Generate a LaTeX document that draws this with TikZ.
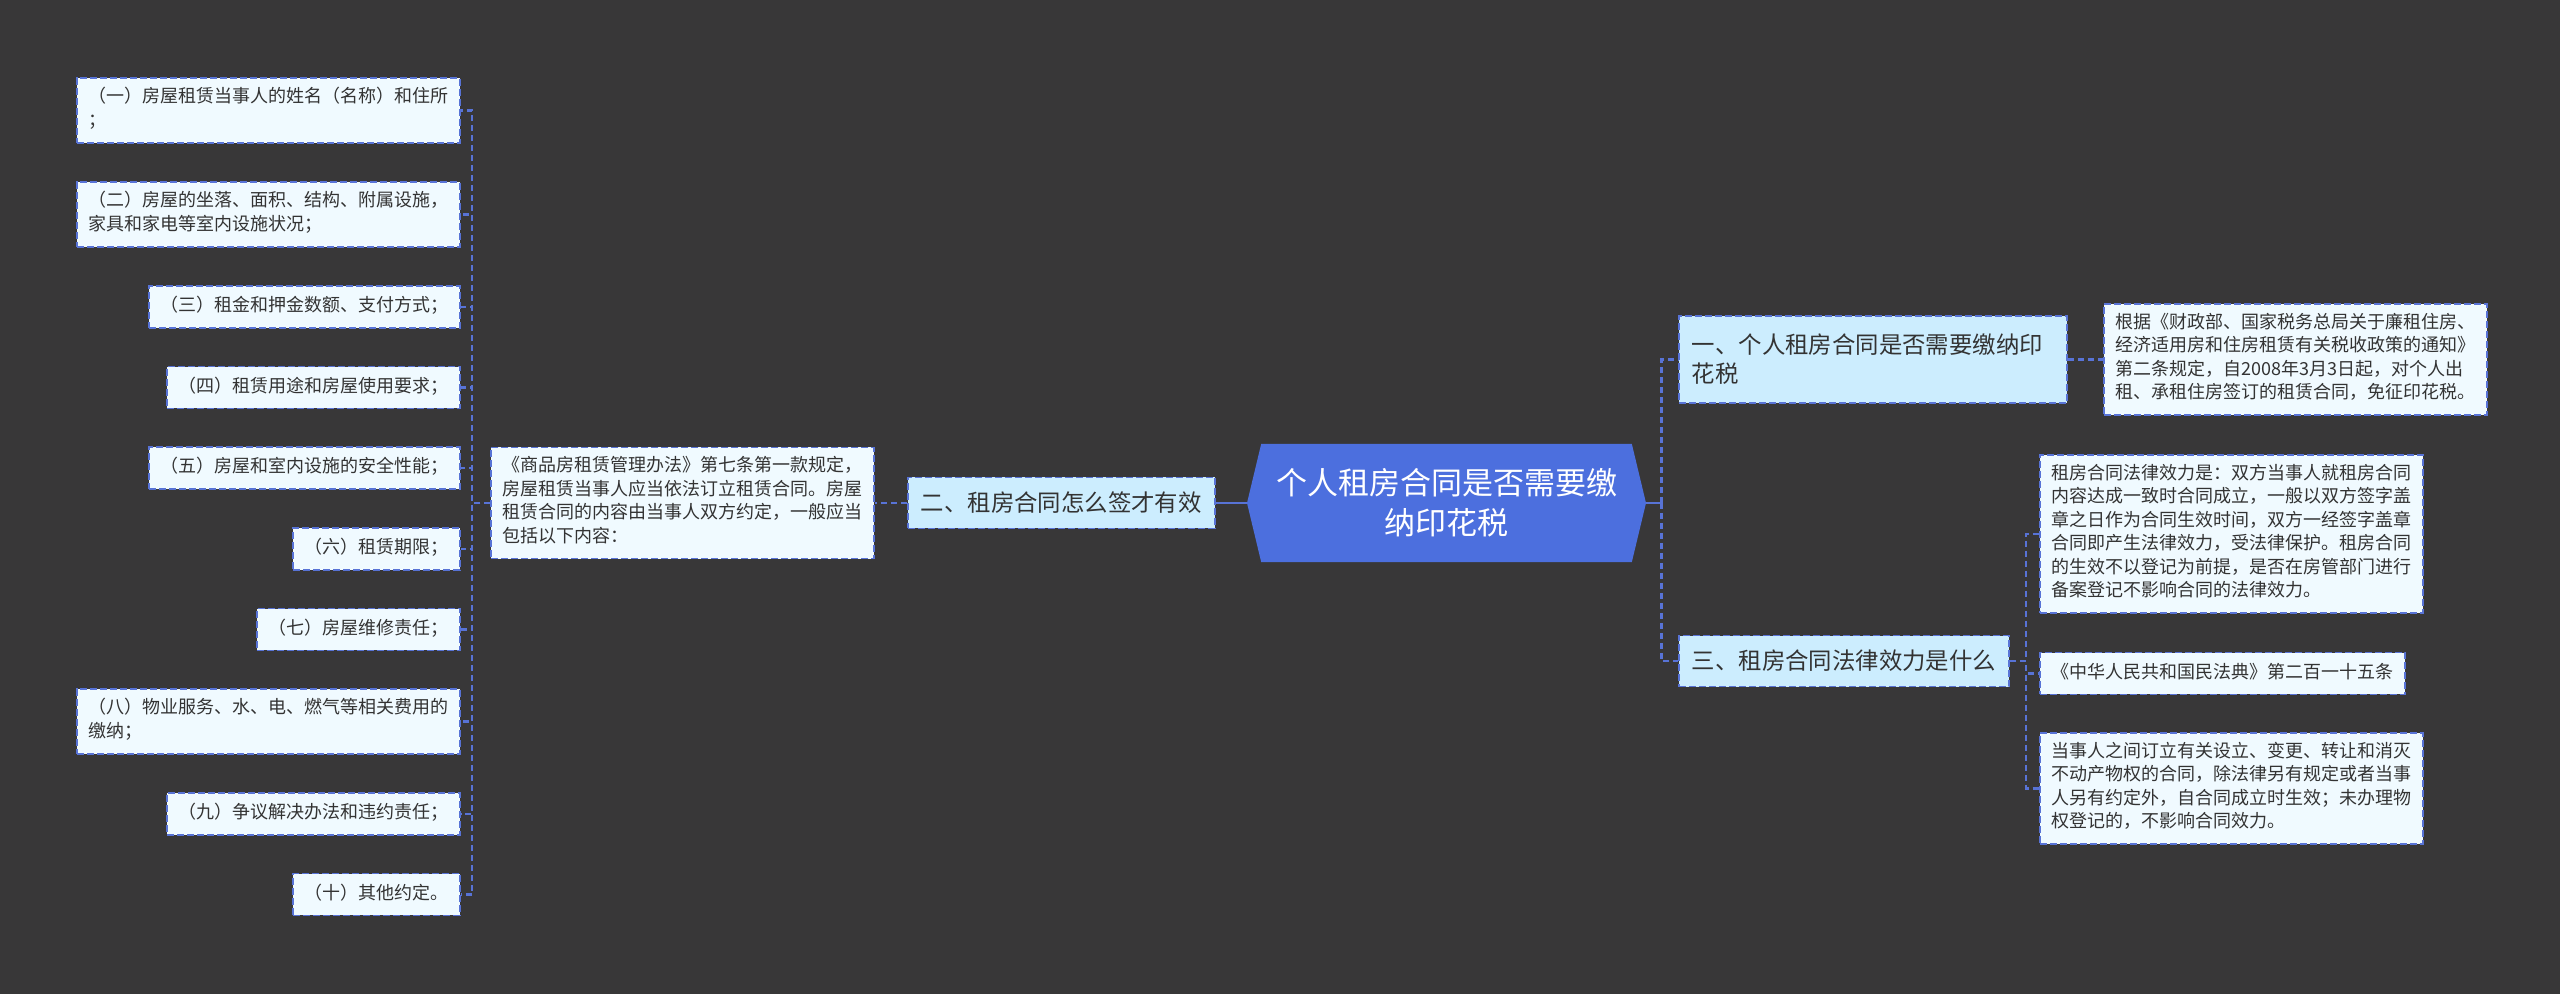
\documentclass[tikz,border=0pt]{standalone}
\usepackage{fontspec}
\setmainfont{Noto Sans CJK SC}
\usepackage{xcolor}
\usepackage{tikz}
\usetikzlibrary{positioning, shapes.symbols}
\definecolor{mapbg}{RGB}{56,55,56}
\definecolor{mapblue}{RGB}{76,111,222}
\definecolor{mapline}{RGB}{88,115,214}
\definecolor{topicfill}{RGB}{204,237,254}
\definecolor{notefill}{RGB}{240,250,255}
\definecolor{maptext}{RGB}{51,51,51}

\begin{document}
\begin{tikzpicture}[x=0.5pt,y=-0.5pt,every node/.style={text=maptext},
  notebox/.style={draw=mapline,line width=0.9pt,dash pattern=on 3.5pt off 1.5pt,
        fill=notefill,font=\fontsize{9}{11.75}\selectfont,align=left,
        inner xsep=5.75pt,inner ysep=4.6pt,
        execute at begin node=\strut,execute at end node=\strut},
  topicbox/.style={draw=mapline,line width=0.9pt,dash pattern=on 3.5pt off 1.5pt,
        fill=topicfill,font=\fontsize{11.7}{14.5}\selectfont,align=left,
        inner xsep=6.5pt,inner ysep=3.5pt,minimum height=25.5pt},
  rootbox/.style={signal,signal to=east and west,signal pointer angle=153,
        fill=mapblue,text=white,font=\fontsize{15.5}{20}\selectfont,align=center,
        minimum width=199.5pt,minimum height=59pt},
  link/.style={draw=mapline,line width=1.2pt,dash pattern=on 3pt off 2pt},
  rootlink/.style={draw=mapline,line width=1.2pt}]
  \fill[mapbg] (0,0) rectangle (2560,994);

  \node[rootbox] (root) at (1446.5,503) {个人租房合同是否需要缴\\纳印花税};

  \node[topicbox,left=15.5pt of root] (two) {二、租房合同怎么签才有效};
  \node[notebox,left=16pt of two] (law) {《商品房租赁管理办法》第七条第一款规定，\\房屋租赁当事人应当依法订立租赁合同。房屋\\租赁合同的内容由当事人双方约定，一般应当\\包括以下内容：};

  \node[notebox,anchor=east] (c1) at (461,110.5) {（一）房屋租赁当事人的姓名（名称）和住所\\；};
  \node[notebox,anchor=east] (c2) at (461,214.5) {（二）房屋的坐落、面积、结构、附属设施，\\家具和家电等室内设施状况；};
  \node[notebox,anchor=east] (c3) at (461,307) {（三）租金和押金数额、支付方式；};
  \node[notebox,anchor=east] (c4) at (461,387.5) {（四）租赁用途和房屋使用要求；};
  \node[notebox,anchor=east] (c5) at (461,468) {（五）房屋和室内设施的安全性能；};
  \node[notebox,anchor=east] (c6) at (461,549) {（六）租赁期限；};
  \node[notebox,anchor=east] (c7) at (461,629.5) {（七）房屋维修责任；};
  \node[notebox,anchor=east] (c8) at (461,721.5) {（八）物业服务、水、电、燃气等相关费用的\\缴纳；};
  \node[notebox,anchor=east] (c9) at (461,814) {（九）争议解决办法和违约责任；};
  \node[notebox,anchor=east] (c10) at (461,894.5) {（十）其他约定。};

  \node[topicbox,anchor=west,text width=181pt,minimum height=43.5pt] (one) at (1678,359.5) {一、个人租房合同是否需要缴纳印\\花税};
  \node[notebox,right=17.5pt of one] (taxnote) {根据《财政部、国家税务总局关于廉租住房、\\经济适用房和住房租赁有关税收政策的通知》\\第二条规定，自2008年3月3日起，对个人出\\租、承租住房签订的租赁合同，免征印花税。};

  \node[topicbox,anchor=west] (three) at (1678,661) {三、租房合同法律效力是什么};
  \node[notebox,anchor=west] (effnote) at (2039,534) {租房合同法律效力是：双方当事人就租房合同\\内容达成一致时合同成立，一般以双方签字盖\\章之日作为合同生效时间，双方一经签字盖章\\合同即产生法律效力，受法律保护。租房合同\\的生效不以登记为前提，是否在房管部门进行\\备案登记不影响合同的法律效力。};
  \node[notebox,anchor=west] (codenote) at (2039,673.5) {《中华人民共和国民法典》第二百一十五条};
  \node[notebox,anchor=west] (propnote) at (2039,788.5) {当事人之间订立有关设立、变更、转让和消灭\\不动产物权的合同，除法律另有规定或者当事\\人另有约定外，自合同成立时生效；未办理物\\权登记的，不影响合同效力。};

  \coordinate (lbus) at ([xshift=-9pt]law.west);
  \coordinate (rbus) at ([xshift=7.5pt]root.east);
  \coordinate (tbus) at ([xshift=8pt]three.east);

  \draw[rootlink] (root.west) -- (two.east);
  \draw[link] (two.west) -- (law.east);
  \draw[link] (law.west) -- (lbus) |- (c1.east);
  \draw[link] (law.west) -- (lbus) |- (c2.east);
  \draw[link] (law.west) -- (lbus) |- (c3.east);
  \draw[link] (law.west) -- (lbus) |- (c4.east);
  \draw[link] (law.west) -- (lbus) |- (c5.east);
  \draw[link] (law.west) -- (lbus) |- (c6.east);
  \draw[link] (law.west) -- (lbus) |- (c7.east);
  \draw[link] (law.west) -- (lbus) |- (c8.east);
  \draw[link] (law.west) -- (lbus) |- (c9.east);
  \draw[link] (law.west) -- (lbus) |- (c10.east);

  \draw[rootlink] (root.east) -- (rbus);
  \draw[link] (rbus) |- (one.west);
  \draw[link] (rbus) |- (three.west);
  \draw[link] (one.east) -- (taxnote.west);
  \draw[link] (three.east) -- (tbus) |- (effnote.west);
  \draw[link] (three.east) -- (tbus) |- (codenote.west);
  \draw[link] (three.east) -- (tbus) |- (propnote.west);
\end{tikzpicture}
\end{document}
